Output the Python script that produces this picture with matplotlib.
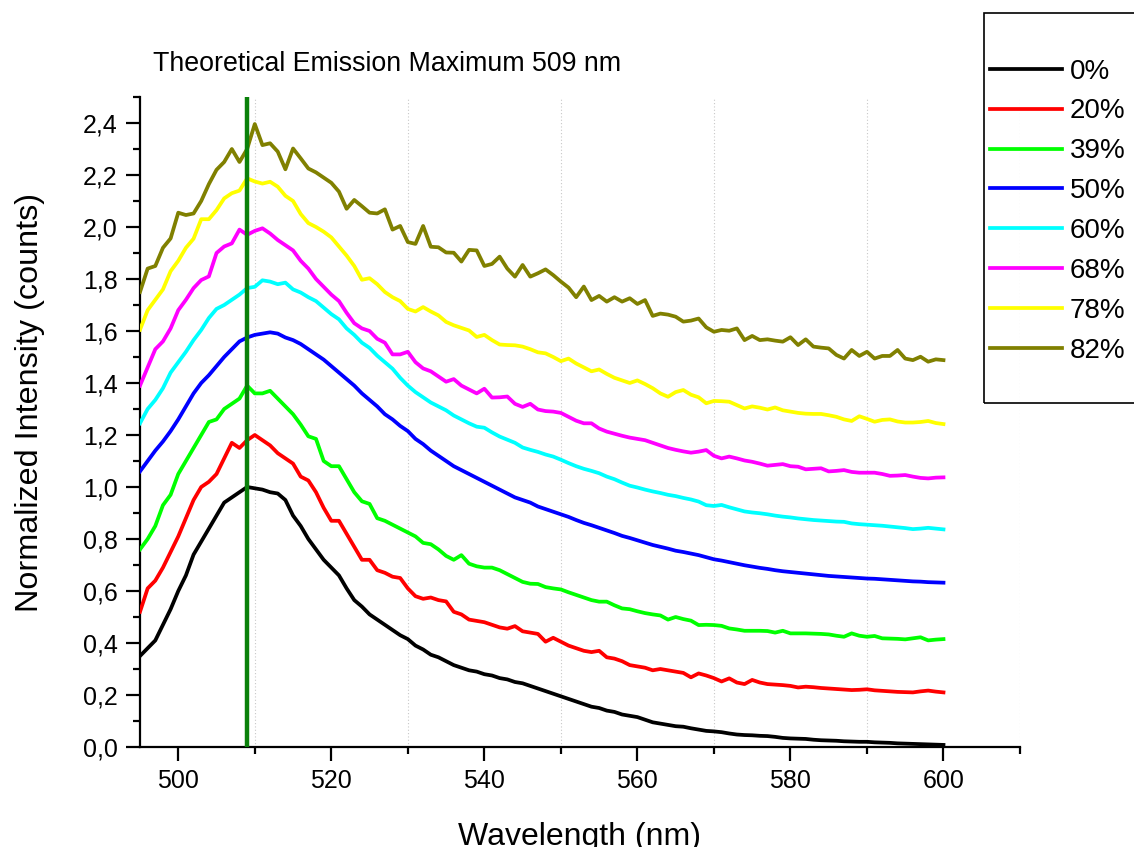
import numpy as np
import matplotlib
matplotlib.use("Agg")
import matplotlib.pyplot as plt
from matplotlib.ticker import MultipleLocator, FuncFormatter
from matplotlib.patches import Rectangle

plt.rcParams['font.family'] = ['Liberation Sans', 'DejaVu Sans']

wl_start, wl_end = 495, 600
wavelength = np.arange(wl_start, wl_end + 1)

labels = ["0%", "20%", "39%", "50%", "60%", "68%", "78%", "82%"]
colors = ["#000000", "#ff0000", "#00ff00", "#0000ff", "#00ffff", "#ff00ff", "#ffff00", "#808000"]

s0 = [0.35, 0.38, 0.41, 0.47, 0.53, 0.60, 0.66, 0.74, 0.79, 0.84,
      0.89, 0.94, 0.96, 0.98, 1.00, 0.995, 0.99, 0.98, 0.975, 0.95,
      0.89, 0.85, 0.80, 0.76, 0.72, 0.69, 0.66, 0.61, 0.565, 0.54,
      0.51, 0.49, 0.47, 0.45, 0.43, 0.415, 0.39, 0.375, 0.355, 0.345,
      0.33, 0.315, 0.305, 0.295, 0.29, 0.28, 0.275, 0.265, 0.26, 0.25,
      0.245, 0.235, 0.225, 0.215, 0.205, 0.195, 0.185, 0.175, 0.165, 0.155,
      0.15, 0.14, 0.135, 0.125, 0.12, 0.115, 0.105, 0.095, 0.09, 0.085,
      0.08, 0.078, 0.072, 0.067, 0.062, 0.06, 0.057, 0.052, 0.048, 0.046,
      0.045, 0.043, 0.042, 0.039, 0.035, 0.033, 0.032, 0.031, 0.028, 0.026,
      0.025, 0.024, 0.022, 0.021, 0.020, 0.020, 0.018, 0.017, 0.016, 0.014,
      0.013, 0.012, 0.011, 0.010, 0.009, 0.008]

s20 = [0.52, 0.61, 0.64, 0.69, 0.75, 0.81, 0.88, 0.95, 1.00, 1.02,
       1.05, 1.11, 1.17, 1.15, 1.18, 1.20, 1.18, 1.16, 1.13, 1.11,
       1.09, 1.04, 1.025, 0.98, 0.92, 0.87, 0.87, 0.82, 0.77, 0.72,
       0.72, 0.68, 0.67, 0.655, 0.65, 0.61, 0.58, 0.57, 0.575, 0.565,
       0.56, 0.52, 0.51, 0.49, 0.485, 0.48, 0.47, 0.46, 0.455, 0.465,
       0.445, 0.44, 0.435, 0.405, 0.42, 0.405, 0.39, 0.38, 0.37, 0.365,
       0.37, 0.345, 0.34, 0.33, 0.315, 0.31, 0.305, 0.295, 0.30, 0.295,
       0.29, 0.285, 0.268, 0.283, 0.275, 0.265, 0.252, 0.264, 0.248, 0.242,
       0.258, 0.248, 0.242, 0.24, 0.238, 0.235, 0.229, 0.232, 0.23, 0.227,
       0.225, 0.223, 0.221, 0.219, 0.22, 0.222, 0.218, 0.216, 0.214, 0.212,
       0.211, 0.21, 0.214, 0.217, 0.213, 0.21]

s39 = [0.76, 0.80, 0.85, 0.93, 0.97, 1.05, 1.10, 1.15, 1.20, 1.25,
       1.26, 1.30, 1.32, 1.34, 1.39, 1.36, 1.36, 1.37, 1.34, 1.31,
       1.28, 1.24, 1.195, 1.185, 1.10, 1.08, 1.08, 1.03, 0.98, 0.945,
       0.935, 0.88, 0.87, 0.855, 0.84, 0.825, 0.81, 0.785, 0.78, 0.76,
       0.735, 0.72, 0.738, 0.705, 0.695, 0.69, 0.69, 0.68, 0.665, 0.65,
       0.635, 0.628, 0.627, 0.615, 0.61, 0.606, 0.595, 0.585, 0.575, 0.565,
       0.559, 0.559, 0.545, 0.533, 0.53, 0.522, 0.515, 0.51, 0.506, 0.49,
       0.50, 0.492, 0.486, 0.469, 0.47, 0.469, 0.466, 0.456, 0.452, 0.447,
       0.447, 0.447, 0.446, 0.44, 0.447, 0.437, 0.437, 0.437, 0.436, 0.435,
       0.433, 0.428, 0.424, 0.437, 0.428, 0.424, 0.427, 0.418, 0.417, 0.416,
       0.414, 0.418, 0.422, 0.41, 0.413, 0.415]

s50 = [1.06, 1.10, 1.14, 1.175, 1.215, 1.26, 1.31, 1.36, 1.40, 1.43,
       1.465, 1.50, 1.53, 1.56, 1.575, 1.585, 1.59, 1.595, 1.59, 1.575,
       1.565, 1.55, 1.53, 1.51, 1.49, 1.465, 1.44, 1.415, 1.39, 1.36,
       1.335, 1.31, 1.28, 1.26, 1.235, 1.215, 1.185, 1.165, 1.14, 1.12,
       1.10, 1.08, 1.065, 1.05, 1.035, 1.02, 1.005, 0.99, 0.975, 0.96,
       0.95, 0.94, 0.925, 0.915, 0.905, 0.895, 0.885, 0.873, 0.862, 0.853,
       0.843, 0.833, 0.823, 0.812, 0.804, 0.795, 0.786, 0.777, 0.77, 0.763,
       0.755, 0.75, 0.744, 0.738, 0.73, 0.722, 0.717, 0.711, 0.705, 0.699,
       0.694, 0.689, 0.685, 0.68, 0.676, 0.673, 0.67, 0.667, 0.664, 0.661,
       0.658, 0.656, 0.654, 0.652, 0.65, 0.648, 0.647, 0.645, 0.643, 0.641,
       0.639, 0.637, 0.636, 0.634, 0.633, 0.632]

s60 = [1.245, 1.30, 1.335, 1.38, 1.44, 1.48, 1.52, 1.565, 1.604, 1.65,
       1.685, 1.70, 1.72, 1.74, 1.765, 1.77, 1.795, 1.79, 1.78, 1.786,
       1.76, 1.748, 1.73, 1.715, 1.69, 1.665, 1.645, 1.61, 1.585, 1.555,
       1.535, 1.505, 1.48, 1.455, 1.42, 1.39, 1.365, 1.345, 1.325, 1.31,
       1.295, 1.275, 1.26, 1.245, 1.232, 1.228, 1.21, 1.194, 1.182, 1.17,
       1.152, 1.143, 1.135, 1.125, 1.117, 1.105, 1.092, 1.08, 1.07, 1.062,
       1.053, 1.04, 1.03, 1.017, 1.005, 0.998, 0.99, 0.983, 0.977, 0.97,
       0.965, 0.958, 0.952, 0.944, 0.93, 0.927, 0.931, 0.922, 0.914, 0.906,
       0.902, 0.899, 0.895, 0.89, 0.886, 0.883, 0.879, 0.876, 0.873, 0.871,
       0.869, 0.867, 0.866, 0.86, 0.857, 0.855, 0.853, 0.851, 0.848, 0.845,
       0.842, 0.838, 0.84, 0.843, 0.84, 0.837]

s68 = [1.39, 1.46, 1.53, 1.56, 1.61, 1.68, 1.72, 1.765, 1.796, 1.81,
       1.90, 1.925, 1.937, 1.99, 1.97, 1.985, 1.995, 1.975, 1.95, 1.93,
       1.91, 1.87, 1.84, 1.80, 1.77, 1.74, 1.715, 1.67, 1.63, 1.61,
       1.60, 1.57, 1.555, 1.51, 1.51, 1.52, 1.48, 1.456, 1.445, 1.425,
       1.405, 1.415, 1.39, 1.375, 1.36, 1.378, 1.344, 1.345, 1.348, 1.32,
       1.308, 1.32, 1.298, 1.292, 1.29, 1.285, 1.27, 1.255, 1.245, 1.245,
       1.225, 1.213, 1.205, 1.197, 1.19, 1.185, 1.18, 1.17, 1.16, 1.15,
       1.143, 1.137, 1.132, 1.136, 1.142, 1.12, 1.11, 1.117, 1.11, 1.102,
       1.097, 1.09, 1.082, 1.085, 1.088, 1.08, 1.078, 1.068, 1.07, 1.072,
       1.06, 1.062, 1.065, 1.058, 1.055, 1.055, 1.055, 1.05, 1.043, 1.044,
       1.046, 1.04, 1.035, 1.033, 1.036, 1.037]

s78 = [1.605, 1.68, 1.72, 1.76, 1.83, 1.87, 1.92, 1.955, 2.03, 2.03,
       2.065, 2.11, 2.13, 2.14, 2.187, 2.175, 2.167, 2.174, 2.155, 2.12,
       2.10, 2.05, 2.015, 2.00, 1.982, 1.96, 1.925, 1.89, 1.85, 1.797,
       1.803, 1.78, 1.75, 1.73, 1.715, 1.685, 1.675, 1.692, 1.675, 1.66,
       1.635, 1.622, 1.612, 1.602, 1.577, 1.585, 1.565, 1.548, 1.546, 1.545,
       1.54, 1.53, 1.518, 1.514, 1.5, 1.484, 1.494, 1.475, 1.46, 1.445,
       1.452, 1.435, 1.42, 1.41, 1.40, 1.41, 1.396, 1.38, 1.36, 1.347,
       1.365, 1.373, 1.355, 1.345, 1.322, 1.331, 1.33, 1.328, 1.315, 1.302,
       1.31, 1.305, 1.298, 1.306, 1.295, 1.29, 1.285, 1.282, 1.281, 1.281,
       1.276, 1.27, 1.26, 1.254, 1.272, 1.262, 1.251, 1.258, 1.26, 1.252,
       1.248, 1.248, 1.25, 1.254, 1.246, 1.242]

s82 = [1.75, 1.84, 1.85, 1.92, 1.956, 2.055, 2.046, 2.052, 2.10, 2.165,
       2.22, 2.25, 2.30, 2.25, 2.30, 2.396, 2.315, 2.322, 2.29, 2.222,
       2.302, 2.264, 2.225, 2.21, 2.19, 2.17, 2.136, 2.07, 2.104, 2.08,
       2.055, 2.052, 2.068, 1.99, 2.004, 1.942, 1.935, 2.004, 1.924, 1.922,
       1.902, 1.901, 1.867, 1.912, 1.91, 1.85, 1.858, 1.886, 1.84, 1.809,
       1.854, 1.809, 1.822, 1.837, 1.815, 1.79, 1.767, 1.73, 1.771, 1.719,
       1.735, 1.713, 1.73, 1.713, 1.726, 1.704, 1.719, 1.658, 1.667, 1.663,
       1.655, 1.636, 1.64, 1.648, 1.614, 1.597, 1.604, 1.601, 1.61, 1.565,
       1.581, 1.565, 1.568, 1.563, 1.559, 1.576, 1.546, 1.568, 1.54, 1.536,
       1.533, 1.508, 1.494, 1.527, 1.504, 1.52, 1.494, 1.504, 1.504, 1.527,
       1.494, 1.488, 1.501, 1.482, 1.491, 1.488]

series = [s0, s20, s39, s50, s60, s68, s78, s82]
theoretical_max = 509

W, H = 1134, 847
fig = plt.figure(figsize=(W / 100, H / 100), dpi=100)
ax = fig.add_axes([140 / W, 1 - 747 / H, (1020 - 140) / W, (747 - 97) / H])

ax.xaxis.set_minor_locator(MultipleLocator(10))
ax.xaxis.set_major_locator(MultipleLocator(20))
ax.yaxis.set_major_locator(MultipleLocator(0.2))
ax.yaxis.set_minor_locator(MultipleLocator(0.1))
ax.grid(False)
ax.grid(True, which='minor', axis='x', linestyle=(0, (1, 2)), color='#c8c8c8', linewidth=0.8)

handles = []
for s, c, lab in zip(series, colors, labels):
    h, = ax.plot(wavelength, s, color=c, linewidth=2.7, label=lab, zorder=3)
    handles.append(h)

ax.axvline(theoretical_max, color='#0a800a', linewidth=3.2, zorder=4)

ax.set_xlim(495, 610)
ax.set_ylim(0, 2.5)

ax.spines['top'].set_visible(False)
ax.spines['right'].set_visible(False)
for sp in ('left', 'bottom'):
    ax.spines[sp].set_linewidth(1.6)

ax.tick_params(which='major', direction='out', length=10, width=1.6, labelsize=18, pad=6)
ax.tick_params(which='minor', direction='out', length=5, width=1.6)
ax.yaxis.set_major_formatter(FuncFormatter(lambda v, p: f"{v:.1f}".replace('.', ',')))

fig.text(153 / W, 1 - 64 / H, "Theoretical Emission Maximum 509 nm", fontsize=19.3,
         ha='left', va='center')
fig.text(30 / W, 1 - 402 / H, "Normalized Intensity (counts)", fontsize=23.3,
         rotation=90, ha='center', va='center')
fig.text(580 / W, 1 - 845 / H, "Wavelength (nm)", fontsize=23,
         ha='center', va='baseline')

# legend frame extending past right edge
fig.patches.append(Rectangle((984 / W, 1 - 403 / H), 300 / W, (403 - 13) / H,
                             transform=fig.transFigure, fill=False,
                             edgecolor='black', linewidth=1.2))
fig.legend(handles=handles, labels=labels, loc='upper left',
           bbox_to_anchor=(984 / W, 1 - 53 / H), frameon=False,
           fontsize=20, handlelength=2.6, handletextpad=0.3,
           labelspacing=0.50, borderpad=0.2, borderaxespad=0.0)

fig.savefig("out.png", dpi=100)
